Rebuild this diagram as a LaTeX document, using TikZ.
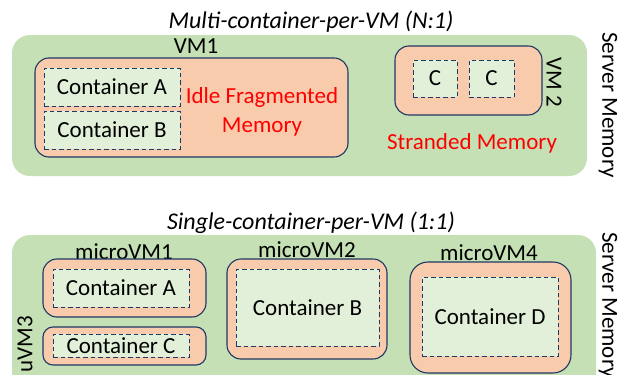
\documentclass[tikz,border=0pt]{standalone}
\usepackage{fontspec}
\setmainfont{Carlito}
\definecolor{servergreen}{HTML}{C5E0B4}
\definecolor{vmorange}{HTML}{F8CBAD}
\definecolor{ctrgreen}{HTML}{E2F0D9}
\definecolor{edgenavy}{HTML}{203864}
\newcommand{\boxfont}{\fontsize{23}{29}\selectfont}
\tikzset{
  server/.style={fill=servergreen, rounded corners=18pt, inner sep=0pt},
  vmbox/.style={fill=vmorange, draw=edgenavy, line width=1.1pt, rounded corners=14pt, inner sep=0pt},
  ctrbox/.style={fill=ctrgreen, draw=edgenavy, line width=1pt, dash pattern=on 4.5pt off 3pt, inner sep=0pt, font=\boxfont},
  lbl/.style={inner sep=0pt, font=\boxfont},
  titlelbl/.style={inner sep=0pt, font=\fontsize{24}{29}\selectfont\itshape},
  redlbl/.style={lbl, text=red, align=center}
}
\begin{document}
\begin{tikzpicture}[x=1pt, y=-1pt]
  \useasboundingbox (0,0) rectangle (622,375);
  \clip (0,0) rectangle (622,375);
  % N:1
  \node[titlelbl] (title1) at (311,22) {Multi-container-per-VM (N:1)};
  \node[server, minimum width=575pt, minimum height=141pt] (srv1) at (299.5,105.5) {};
  \node[lbl, rotate=-90] (srvlbl1) at (608,105) {Server Memory};
  \node[vmbox, minimum width=313pt, minimum height=99pt] (vm1) at (191.5,107.5) {};
  \node[lbl] (vm1lbl) at (196,46) {VM1};
  \node[ctrbox, minimum width=136pt, minimum height=38pt] (ctra) at (112,87) {Container A};
  \node[ctrbox, minimum width=136pt, minimum height=38pt] (ctrb) at (112,130) {Container B};
  \node[redlbl] (idle) at (262,112) {Idle Fragmented\\Memory};
  \node[vmbox, minimum width=147pt, minimum height=69pt] (vm2) at (468.5,80.5) {};
  \node[ctrbox, minimum width=44pt, minimum height=37pt] (c1) at (435,78.5) {C};
  \node[ctrbox, minimum width=45pt, minimum height=37pt] (c2) at (491.5,78.5) {C};
  \node[lbl, rotate=-90] (vm2lbl) at (554,82) {VM 2};
  \node[redlbl] (strand) at (472,143) {Stranded Memory};
  % 1:1
  \node[titlelbl] (title2) at (311,223) {Single-container-per-VM (1:1)};
  \node[server, minimum width=584pt, minimum height=170pt] (srv2) at (304,320) {};
  \node[lbl, rotate=-90] (srvlbl2) at (608,305) {Server Memory};
  \node[lbl] (mvm1lbl) at (124,252) {microVM1};
  \node[vmbox, minimum width=163pt, minimum height=58pt] (mvm1) at (124.5,288) {};
  \node[ctrbox, minimum width=136pt, minimum height=38pt] (ctra2) at (121,288) {Container A};
  \node[vmbox, rounded corners=10pt, minimum width=163pt, minimum height=38pt] (uvm3) at (124.5,346) {};
  \node[ctrbox, minimum width=136pt, minimum height=23pt] (ctrc) at (121,345.5) {Container C};
  \node[lbl, rotate=90] (uvm3lbl) at (25,344) {uVM3};
  \node[lbl] (mvm2lbl) at (307,250) {microVM2};
  \node[vmbox, minimum width=160pt, minimum height=100pt] (mvm2) at (307,309) {};
  \node[ctrbox, minimum width=143pt, minimum height=77pt] (ctrb2) at (307.5,307.5) {Container B};
  \node[lbl] (mvm4lbl) at (489,253) {microVM4};
  \node[vmbox, rounded corners=18pt, minimum width=161pt, minimum height=111pt] (mvm4) at (490.5,317.5) {};
  \node[ctrbox, minimum width=136pt, minimum height=79pt] (ctrd) at (490,316.5) {Container D};
\end{tikzpicture}
\end{document}
